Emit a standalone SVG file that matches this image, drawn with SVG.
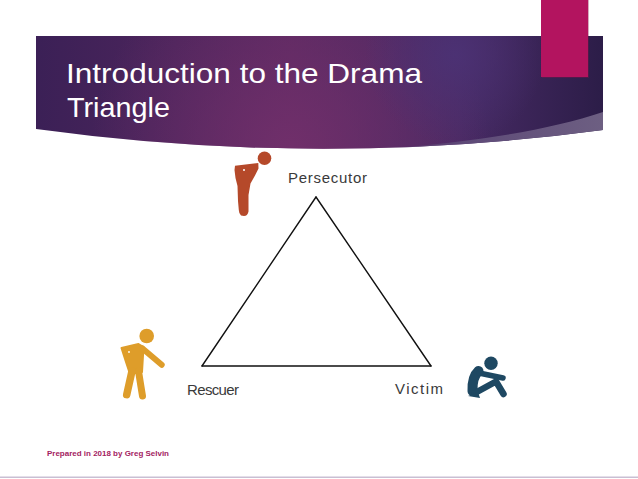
<svg xmlns="http://www.w3.org/2000/svg" width="638" height="479" viewBox="0 0 638 479">
  <defs>
    <style>
      .title { font-family: "Liberation Sans", Arial, sans-serif; font-size: 28px; fill: #ffffff; }
      .label { font-family: "Liberation Sans", Arial, sans-serif; font-size: 15px; fill: #3a3a3a; }
      .footer { font-family: "Liberation Sans", Arial, sans-serif; font-size: 7.5px; font-weight: bold; fill: #a3215f; }
      .edge { stroke: #111111; stroke-width: 1.4; fill: none; stroke-linecap: round; }
      .limb { fill: none; stroke-linecap: round; stroke-linejoin: round; }
    </style>
    <linearGradient id="bannerGrad" x1="0" y1="0" x2="1" y2="0">
      <stop offset="0" stop-color="#3b2056"/>
      <stop offset="0.45" stop-color="#5a2961"/>
      <stop offset="0.75" stop-color="#472a64"/>
      <stop offset="1" stop-color="#2c1d48"/>
    </linearGradient>
    <radialGradient id="pinkGlow" cx="290" cy="150" r="200" gradientUnits="userSpaceOnUse">
      <stop offset="0" stop-color="#74306c" stop-opacity="0.85"/>
      <stop offset="1" stop-color="#74306c" stop-opacity="0"/>
    </radialGradient>
    <radialGradient id="blueGlow" cx="455" cy="55" r="90" gradientUnits="userSpaceOnUse">
      <stop offset="0" stop-color="#4c3275" stop-opacity="0.9"/>
      <stop offset="1" stop-color="#4c3275" stop-opacity="0"/>
    </radialGradient>
    <linearGradient id="wedgeGrad" x1="0" y1="0" x2="1" y2="0">
      <stop offset="0" stop-color="#5a3d6e" stop-opacity="0"/>
      <stop offset="0.5" stop-color="#5e4a78"/>
      <stop offset="1" stop-color="#6d5f82"/>
    </linearGradient>
    <clipPath id="bannerClip">
      <path d="M36,36 L603,36 L603,130 Q320,168 36,129 Z"/>
    </clipPath>
  </defs>

  <rect width="638" height="479" fill="#ffffff"/>

  <g id="banner">
    <path d="M36,36 L603,36 L603,130 Q320,168 36,129 Z" fill="url(#bannerGrad)"/>
    <g clip-path="url(#bannerClip)">
      <rect x="36" y="36" width="567" height="130" fill="url(#pinkGlow)"/>
      <rect x="36" y="36" width="567" height="130" fill="url(#blueGlow)"/>
      <path d="M603,112 C540,133 450,146 330,152 L603,170 Z" fill="url(#wedgeGrad)"/>
    </g>
    <rect x="542" y="0" width="47" height="78" fill="#8a1049" opacity="0.35"/>
    <rect x="541" y="0" width="47" height="77" fill="#b3145f"/>
    <text class="title" x="66" y="83" textLength="356" lengthAdjust="spacingAndGlyphs">Introduction to the Drama</text>
    <text class="title" x="67" y="117" textLength="103" lengthAdjust="spacingAndGlyphs">Triangle</text>
  </g>

  <g id="connectors">
    <line class="edge" x1="316" y1="197" x2="202" y2="366"/>
    <line class="edge" x1="316" y1="197" x2="431" y2="366"/>
    <line class="edge" x1="202" y1="366" x2="431" y2="366"/>
  </g>

  <g id="persecutor">
    <circle cx="264.5" cy="158.3" r="6.8" fill="#b5492a"/>
    <path d="M235,165.7 L258.3,163 L258.5,168.5 L255,175.5 L250.5,183.5 L248.5,195 L248.5,211.5 Q247.5,216 244,216 L241,215.5 Q239,214 238.8,210 L238,201 L237.5,186 L235.5,178 L234.5,170 Z" fill="#b5492a"/>
    <circle cx="244" cy="170" r="1" fill="#ffffff"/>
    <text class="label" x="288" y="183" textLength="79" lengthAdjust="spacing">Persecutor</text>
  </g>

  <g id="rescuer">
    <circle cx="146.7" cy="336" r="7.3" fill="#de9d2a"/>
    <path d="M121.5,348 L138.5,344 L143.5,347 L142,372 L130,374 L126,362 Z" fill="#de9d2a" stroke="#de9d2a" stroke-width="2" stroke-linejoin="round"/>
    <path class="limb" d="M142.5,348.5 L161.7,364.7" stroke="#de9d2a" stroke-width="6"/>
    <path class="limb" d="M132,371 L126.7,394.7" stroke="#de9d2a" stroke-width="7.5"/>
    <path class="limb" d="M138.5,371 L140.7,385 L142.5,396" stroke="#de9d2a" stroke-width="7"/>
    <circle cx="129" cy="352" r="0.9" fill="#ffffff"/>
    <text class="label" x="187" y="395" textLength="52" lengthAdjust="spacing">Rescuer</text>
  </g>

  <g id="victim">
    <circle cx="491" cy="363.3" r="6.7" fill="#1e4862"/>
    <path class="limb" d="M478.5,371 Q472,377 472.5,391" stroke="#1e4862" stroke-width="10"/>
    <path class="limb" d="M479,373 L503,378" stroke="#1e4862" stroke-width="5.5"/>
    <path class="limb" d="M475,393 L496,381.5 L503.5,394" stroke="#1e4862" stroke-width="6.5"/>
    <path d="M468,396 L478,392 L480,398 Z" fill="#1e4862"/>
    <text class="label" x="395" y="394" textLength="48" lengthAdjust="spacing">Victim</text>
  </g>

  <g id="footer">
    <text class="footer" x="47" y="456" textLength="122" lengthAdjust="spacingAndGlyphs">Prepared in 2018 by Greg Selvin</text>
    <rect x="0" y="476.5" width="638" height="1.5" fill="#c9bfd3"/>
  </g>
</svg>
